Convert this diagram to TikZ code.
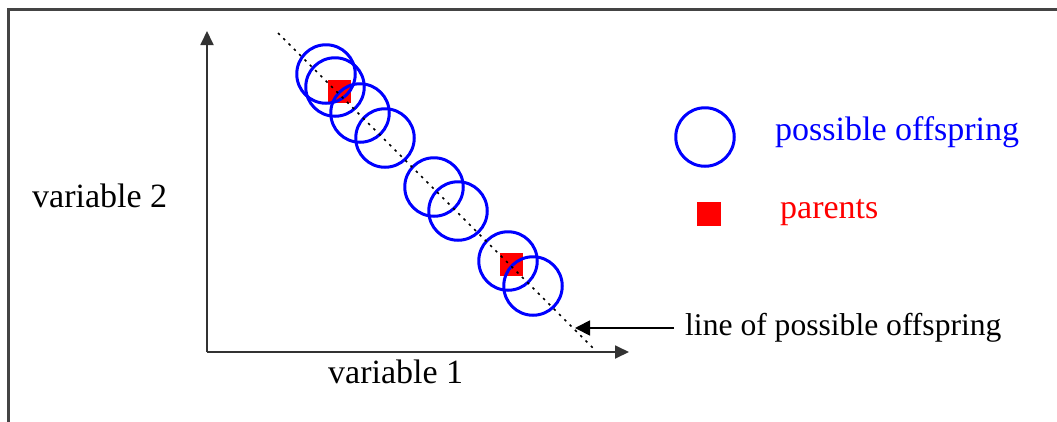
\documentclass[tikz,border=0pt]{standalone}
\usepackage{fontspec}
\setmainfont{Liberation Serif}
\usetikzlibrary{arrows.meta}
\definecolor{framegray}{HTML}{444444}
\definecolor{axisgray}{HTML}{333333}
\definecolor{offblue}{HTML}{0000FF}
\definecolor{parred}{HTML}{FF0000}
\tikzset{
  offspring/.style={circle, draw=offblue, line width=3pt, minimum size=58.5pt, inner sep=0pt},
  parent/.style={rectangle, fill=parred, minimum size=23pt, inner sep=0pt},
  axis/.style={draw=axisgray, line width=1.8pt, -{Triangle[length=14pt,width=13pt]}},
  lbl/.style={font=\fontsize{34}{40}\selectfont, inner sep=0pt},
}
\begin{document}
\begin{tikzpicture}[x=1pt,y=-1pt]
\useasboundingbox (0,0) rectangle (1057,421);
\fill[white] (0,0) rectangle (1057,421);
% frame
\draw[framegray, line width=3pt] (8,430) -- (8,9) -- (1070,9);
% axes
\coordinate (orig) at (207,352);
\coordinate (ytip) at (207,31);
\coordinate (xtip) at (629,352);
\draw[axis] (orig) -- (ytip);
\draw[axis] (orig) -- (xtip);
% parents
\node[parent] (p1) at (339,91) {};
\node[parent] (p2) at (511,264) {};
% offspring circles
\node[offspring] (o1) at (326,74) {};
\node[offspring] (o2) at (335,87) {};
\node[offspring] (o3) at (360,113) {};
\node[offspring] (o4) at (385,138) {};
\node[offspring] (o5) at (434,187) {};
\node[offspring] (o6) at (458,211) {};
\node[offspring] (o7) at (508,261) {};
\node[offspring] (o8) at (533,286) {};
% line of possible offspring
\coordinate (ls) at (278,33);
\coordinate (le) at (594,349);
\draw[black, line width=1.5pt, dash pattern=on 2.5pt off 5pt] (ls) -- (le);
% legend
\node[offspring] (lo) at (705,137) {};
\node[parent, minimum size=24pt] (lp) at (709,214) {};
\node[lbl, anchor=base west, text=offblue] (tlo) at (775,140) {possible offspring};
\node[lbl, anchor=base west, text=parred] (tlp) at (780,218) {parents};
% axis labels
\node[lbl, anchor=base west] (v2) at (32,207) {variable 2};
\node[lbl, anchor=base west] (v1) at (328,383) {variable 1};
% label of line
\node[lbl, anchor=base west, font=\fontsize{31.6}{38}\selectfont] (tl) at (685,335) {line of possible offspring};
\coordinate (lt) at (575,328);
\draw[black, line width=1.8pt, -{Triangle[length=15pt,width=15pt]}] (tl.west |- lt) ++(-11,0) -- (lt);
\end{tikzpicture}
\end{document}
